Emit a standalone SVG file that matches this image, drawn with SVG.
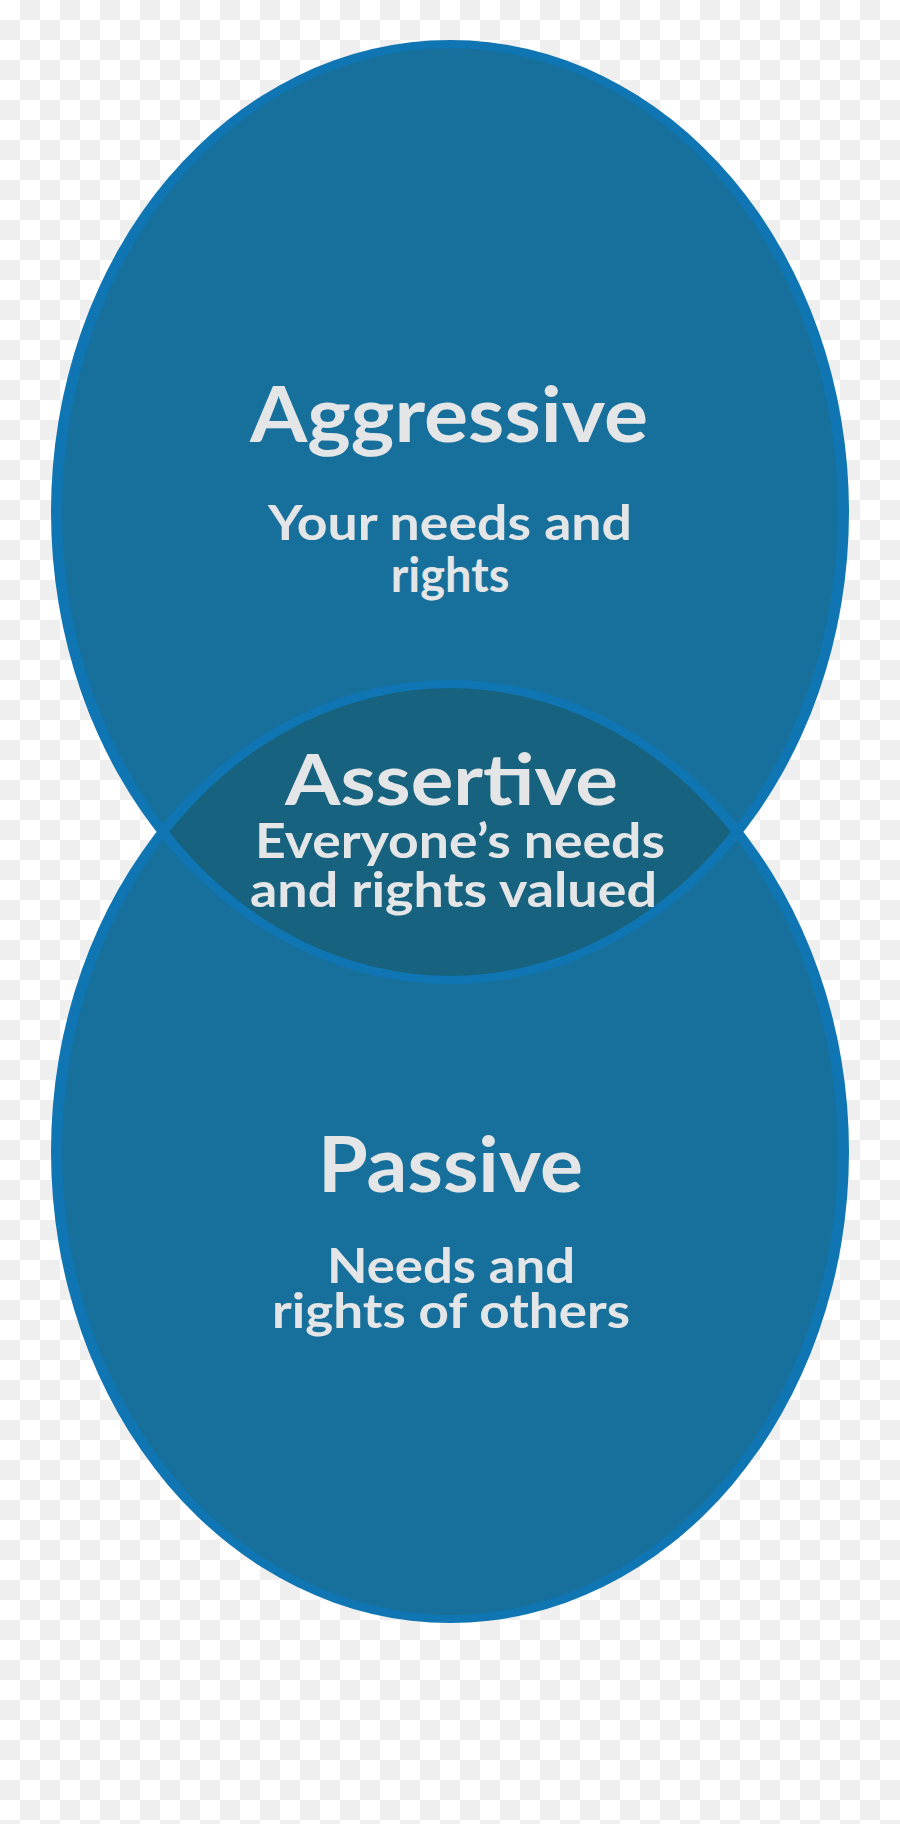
<svg xmlns="http://www.w3.org/2000/svg" width="900" height="1824" viewBox="0 0 900 1824">
<defs>
<pattern id="checker" width="40" height="40" patternUnits="userSpaceOnUse">
<rect width="40" height="40" fill="#ffffff"/>
<rect x="20" y="0" width="20" height="20" fill="#efefef"/>
<rect x="0" y="20" width="20" height="20" fill="#efefef"/>
</pattern>
<clipPath id="topClip"><ellipse cx="450" cy="512" rx="388" ry="464"/></clipPath>
</defs>
<style>
.fill{fill:#17709c;stroke:none}
.ring{fill:#0f76b3;fill-rule:evenodd;stroke:none}
.lens{fill:#16627f}
.title{font-family:Lato,"Liberation Sans",sans-serif;font-weight:700;fill:#e4e5e6;text-anchor:middle}
.sub{font-family:Lato,"Liberation Sans",sans-serif;font-weight:700;fill:#e4e5e6;text-anchor:middle;font-size:47px}
</style>
<rect width="900" height="1824" fill="url(#checker)"/>
<g id="aggressive">
<ellipse class="fill" cx="450" cy="512" rx="390" ry="466"/>
</g>
<g id="passive">
<ellipse class="fill" cx="450" cy="1151.5" rx="390" ry="465.5"/>
</g>
<g id="assertive">
<ellipse class="lens" cx="450" cy="1151.5" rx="388" ry="463.5" clip-path="url(#topClip)"/>
</g>
<g id="outlines">
<path class="ring" d="M51,512 a399,472 0 1,0 798,0 a399,472 0 1,0 -798,0 Z M62,512 a388,464 0 1,0 776,0 a388,464 0 1,0 -776,0 Z"/>
<path class="ring" d="M51,1151.5 a399,471.5 0 1,0 798,0 a399,471.5 0 1,0 -798,0 Z M62,1151.5 a388,463.5 0 1,0 776,0 a388,463.5 0 1,0 -776,0 Z"/>
</g>
<g id="labels">
<text class="title" x="449" y="442" font-size="76" textLength="398" lengthAdjust="spacingAndGlyphs">Aggressive</text>
<text class="sub" x="450" y="540" textLength="364" lengthAdjust="spacingAndGlyphs">Your needs and</text>
<text class="sub" x="450" y="592">rights</text>
<text class="title" x="451.5" y="805" font-size="71" textLength="333" lengthAdjust="spacingAndGlyphs">Assertive</text>
<text class="sub" x="460" y="858" textLength="410" lengthAdjust="spacingAndGlyphs">Everyone’s needs</text>
<text class="sub" x="453.5" y="907" textLength="407" lengthAdjust="spacingAndGlyphs">and rights valued</text>
<text class="title" x="450.5" y="1192" font-size="76" textLength="265" lengthAdjust="spacingAndGlyphs">Passive</text>
<text class="sub" x="451" y="1283" textLength="248" lengthAdjust="spacingAndGlyphs">Needs and</text>
<text class="sub" x="451" y="1328" textLength="358" lengthAdjust="spacingAndGlyphs">rights of others</text>
</g>
</svg>
